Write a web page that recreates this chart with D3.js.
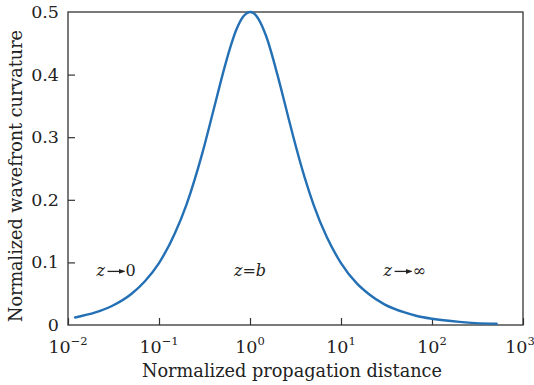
<!DOCTYPE html>
<html>
<head>
<meta charset="utf-8">
<script src="https://cdn.jsdelivr.net/npm/d3@7"></script>
<style>
  html, body { margin: 0; padding: 0; background: #fff; }
  svg { display: block; }
  text { font-family: "DejaVu Serif", "Liberation Serif", serif; fill: #222; }
</style>
</head>
<body>
<svg id="chart" width="534" height="385"></svg>
<script>
// Normalized propagation distance (z/b) and the corresponding normalized curvature
const distance = [0.012, 0.02, 0.03, 0.05, 0.07, 0.1, 0.15, 0.2, 0.3, 0.4, 0.5, 0.6, 0.7, 0.8, 0.9,
                  1.0, 1.1, 1.25, 1.5, 2, 2.5, 3, 4, 5, 7, 10, 15, 20, 30, 50, 70, 100, 200, 300, 513];
const curvature = [0.012, 0.020, 0.030, 0.050, 0.070, 0.099, 0.147, 0.192, 0.275, 0.345, 0.400, 0.441, 0.470, 0.488, 0.497,
                   0.500, 0.498, 0.488, 0.462, 0.400, 0.345, 0.300, 0.235, 0.192, 0.140, 0.099, 0.066, 0.050, 0.033, 0.020, 0.014, 0.010, 0.005, 0.003, 0.002];

const xTicks = [1e-2, 1e-1, 1e0, 1e1, 1e2, 1e3];
const xTickExp = ["\u22122", "\u22121", "0", "1", "2", "3"];
const yTicks = [0, 0.1, 0.2, 0.3, 0.4, 0.5];
const yTickLabels = ["0", "0.1", "0.2", "0.3", "0.4", "0.5"];

const regimeLabels = [
  { x: 0.035, z: "z", rest: "0", arrow: true },
  { x: 1.0, z: "z", rest: "b", arrow: false },
  { x: 50, z: "z", rest: "\u221e", arrow: true }
];

const margin = { left: 68, top: 12, right: 11, bottom: 60 };
const W = 534, H = 385;
const svg = d3.select("#chart");

const x = d3.scaleLog().domain([1e-2, 1e3]).range([margin.left, W - margin.right]);
const y = d3.scaleLinear().domain([0, 0.5]).range([H - margin.bottom, margin.top]);

const axisColor = "#333";

// frame
svg.append("rect")
  .attr("x", x.range()[0]).attr("y", y.range()[1])
  .attr("width", x.range()[1] - x.range()[0])
  .attr("height", y.range()[0] - y.range()[1])
  .attr("fill", "none").attr("stroke", axisColor).attr("stroke-width", 1.3);

// inward ticks on x axis
const xAxis = d3.axisBottom(x).tickValues(xTicks).tickSize(-7).tickFormat("");
const gx = svg.append("g").attr("transform", `translate(0,${y(0)})`).call(xAxis);
gx.select(".domain").remove();
gx.selectAll("line").attr("stroke", axisColor).attr("stroke-width", 1.2);

const xl = svg.append("g");
xTicks.forEach((v, i) => {
  const t = xl.append("text")
    .attr("x", x(v) + (i === xTicks.length - 1 ? -3 : 0)).attr("y", y(0) + 28)
    .attr("text-anchor", "middle")
    .attr("font-size", 17.5);
  t.append("tspan").text("10");
  t.append("tspan").attr("dy", -8).attr("font-size", 11.5).text(xTickExp[i]);
});

// inward ticks on y axis
const yAxis = d3.axisLeft(y).tickValues(yTicks).tickSize(-7).tickFormat("");
const gy = svg.append("g").attr("transform", `translate(${x.range()[0]},0)`).call(yAxis);
gy.select(".domain").remove();
gy.selectAll("line").attr("stroke", axisColor).attr("stroke-width", 1.2)
  .filter(d => d === 0 || d === 0.5).remove();

svg.append("g").selectAll("text").data(yTicks).join("text")
  .attr("x", x.range()[0] - 9).attr("y", d => y(d) + 6)
  .attr("text-anchor", "end").attr("font-size", 17.5)
  .text((d, i) => yTickLabels[i]);

// axis titles
svg.append("text")
  .attr("x", 292).attr("y", H - 8)
  .attr("text-anchor", "middle").attr("font-size", 18)
  .attr("textLength", 300).attr("lengthAdjust", "spacingAndGlyphs")
  .text("Normalized propagation distance");

svg.append("text")
  .attr("transform", `translate(22,176) rotate(-90)`)
  .attr("text-anchor", "middle").attr("font-size", 18)
  .attr("textLength", 292).attr("lengthAdjust", "spacingAndGlyphs")
  .text("Normalized wavefront curvature");

// curve
const line = d3.line()
  .x((d, i) => x(distance[i]))
  .y(d => y(d))
  .curve(d3.curveMonotoneX);

svg.append("path")
  .datum(curvature)
  .attr("d", line)
  .attr("fill", "none")
  .attr("stroke", "#2470b5")
  .attr("stroke-width", 2.4)
  .attr("stroke-linecap", "round");

// regime annotations
svg.append("defs").append("marker")
  .attr("id", "arr").attr("viewBox", "0 0 10 10")
  .attr("refX", 9).attr("refY", 5)
  .attr("markerWidth", 5).attr("markerHeight", 5)
  .attr("orient", "auto")
  .append("path").attr("d", "M0,1 L10,5 L0,9 Z").attr("fill", "#222");

const ann = svg.append("g");
const annY = y(0.1) + 14;
regimeLabels.forEach(r => {
  const cx = x(r.x);
  const g = ann.append("g").attr("transform", `translate(${cx},${annY})`);
  if (r.arrow) {
    g.append("text").attr("x", -21).attr("font-size", 16).attr("font-style", "italic").text(r.z);
    g.append("line").attr("x1", -10).attr("x2", 7).attr("y1", -5).attr("y2", -5)
      .attr("stroke", "#222").attr("stroke-width", 1.3).attr("marker-end", "url(#arr)");
    g.append("text").attr("x", 8).attr("font-size", 16).text(r.rest);
  } else {
    const t = g.append("text").attr("text-anchor", "middle").attr("font-size", 16);
    t.append("tspan").attr("font-style", "italic").text(r.z);
    t.append("tspan").text("=");
    t.append("tspan").attr("font-style", "italic").text(r.rest);
  }
});
</script>
</body>
</html>
